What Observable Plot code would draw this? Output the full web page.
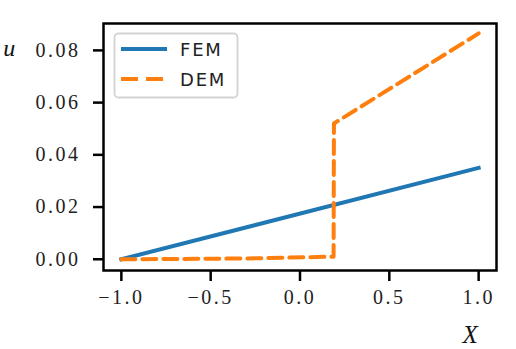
<!DOCTYPE html>
<html>
<head>
<meta charset="utf-8">
<script src="https://cdn.jsdelivr.net/npm/d3@7"></script>
<script src="https://cdn.jsdelivr.net/npm/@observablehq/plot@0.6"></script>
<style>
  html, body { margin: 0; padding: 0; background: #fff; }
  #wrap { position: relative; width: 516px; height: 349px; }
  #legend { position: absolute; left: 0; top: 0; pointer-events: none; }
  #wrap svg text { font-family: 'Liberation Serif', 'DejaVu Serif', serif; }
  #wrap #legend text { font-family: 'DejaVu Sans', sans-serif; }
</style>
</head>
<body>
<div id="wrap"></div>
<script>
// ---- data ----
const seriesNames = ["FEM", "DEM"];
const seriesColors = ["#1f77b4", "#ff7f0e"];
const femX = [-1.0, 1.0];
const femU = [0.0, 0.035];
const demX = [-1.0, -0.3, 0.188, 0.19, 1.0];
const demU = [0.0, 0.0003, 0.001, 0.052, 0.0865];
const xTicks = [-1.0, -0.5, 0.0, 0.5, 1.0];
const yTicks = [0.0, 0.02, 0.04, 0.06, 0.08];
const xLabel = "X";
const yLabel = "u";

const fem = femX.map((x, i) => ({x, u: femU[i]}));
const dem = demX.map((x, i) => ({x, u: demU[i]}));

const serif = "'Liberation Serif', 'DejaVu Serif', serif";

const chart = Plot.plot({
  width: 516,
  height: 349,
  marginLeft: 103,
  marginRight: 20,
  marginTop: 23,
  marginBottom: 79,
  style: {fontFamily: serif, fontSize: "20px", color: "#222", background: "#fff", letterSpacing: "2.5px"},
  x: {domain: [-1.1, 1.1]},
  y: {domain: [-0.0043, 0.0903]},
  marks: [
    Plot.axisX({ticks: xTicks, tickFormat: d3.format(".1f"), tickSize: 11, tickPadding: 8, strokeWidth: 2.5, stroke: "#000", label: null}),
    Plot.axisY({ticks: yTicks, tickFormat: d3.format(".2f"), tickSize: 10, tickPadding: 13, strokeWidth: 2.5, stroke: "#000", label: null}),
    Plot.line(fem, {x: "x", y: "u", stroke: seriesColors[0], strokeWidth: 4, strokeLinecap: "square"}),
    Plot.line(dem, {x: "x", y: "u", stroke: seriesColors[1], strokeWidth: 4, strokeDasharray: "14,7", strokeLinejoin: "round"}),
    Plot.frame({stroke: "#000", strokeWidth: 2.5}),
    Plot.text([yLabel], {text: d => d, frameAnchor: "top-left", dx: -93, dy: 25, textAnchor: "middle", lineAnchor: "middle", fontSize: 24, fontStyle: "italic", fill: "#111"}),
    Plot.text([xLabel], {text: d => d, frameAnchor: "bottom-right", dx: -25, dy: 64, textAnchor: "middle", lineAnchor: "middle", fontSize: 25, fontStyle: "italic", fill: "#111"})
  ]
});

const wrap = document.getElementById("wrap");
wrap.appendChild(chart);

// ---- legend overlay ----
const leg = d3.select(wrap).append("svg")
  .attr("id", "legend").attr("width", 516).attr("height", 349);
leg.append("rect")
  .attr("x", 114.5).attr("y", 33.5).attr("width", 123).attr("height", 64)
  .attr("rx", 4).attr("fill", "rgba(255,255,255,0.85)")
  .attr("stroke", "#d3d3d3").attr("stroke-width", 1.8);
const rows = [49, 79];
seriesNames.forEach((name, i) => {
  leg.append("line")
    .attr("x1", 121).attr("x2", 167).attr("y1", rows[i]).attr("y2", rows[i])
    .attr("stroke", seriesColors[i]).attr("stroke-width", 4)
    .attr("stroke-dasharray", i === 1 ? "17,8" : null);
  leg.append("text")
    .attr("x", 180).attr("y", rows[i] + 7)
    .attr("font-size", 18).attr("letter-spacing", "1.8px")
    .attr("fill", "#222").text(name);
});
</script>
</body>
</html>
